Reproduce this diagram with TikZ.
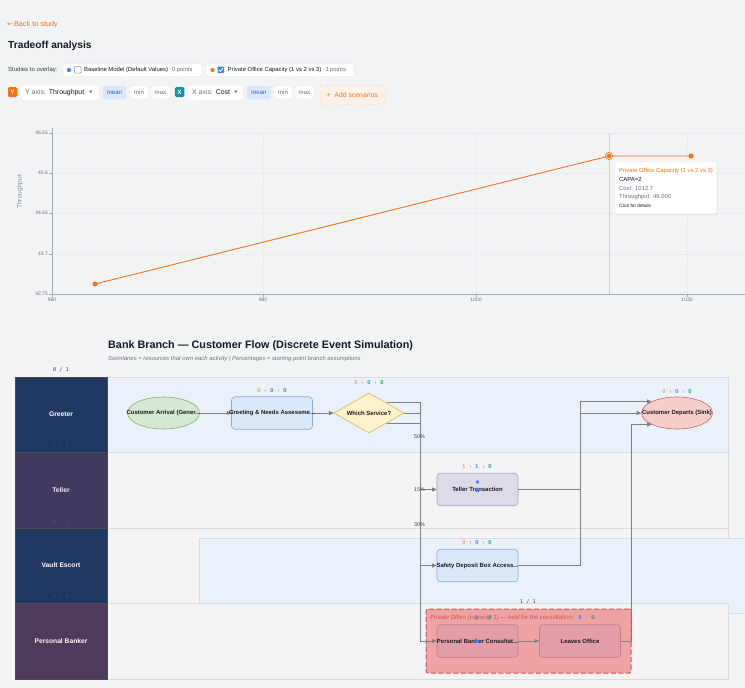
\documentclass[tikz,border=0pt]{standalone}
\usepackage{fontspec}
\setmainfont{Liberation Sans}
\setmonofont{DejaVu Sans Mono}
\newfontfamily\dejavu{DejaVu Sans}
\usetikzlibrary{arrows.meta,shapes.geometric,shadows}
\definecolor{bg}{HTML}{F3F4F6}
\definecolor{orng}{HTML}{F97316}
\definecolor{dark}{HTML}{111827}
\definecolor{txt}{HTML}{374151}
\definecolor{gtxt}{HTML}{6B7280}
\definecolor{bord}{HTML}{E2E5EA}
\definecolor{blu}{HTML}{3B82F6}
\definecolor{meanbg}{HTML}{DCE8FD}
\definecolor{meantx}{HTML}{2563EB}
\definecolor{teal}{HTML}{1591A8}
\definecolor{addbg}{HTML}{FEF1E8}
\definecolor{addbd}{HTML}{FBCFB0}
\definecolor{grid}{HTML}{E1E4E8}
\definecolor{axis}{HTML}{A3A9B3}
\definecolor{navy}{HTML}{1F3862}
\definecolor{navyf}{HTML}{33507E}
\definecolor{purp}{HTML}{403A5E}
\definecolor{purpf}{HTML}{544E72}
\definecolor{plum}{HTML}{4E3A5C}
\definecolor{laneblue}{HTML}{EAF1FB}
\definecolor{lanegray}{HTML}{F4F4F5}
\definecolor{laneline}{HTML}{DADCE0}
\definecolor{conn}{HTML}{808080}
\definecolor{cOr}{HTML}{F0A050}
\definecolor{cBl}{HTML}{3B82F6}
\definecolor{cGn}{HTML}{22A06B}
\definecolor{cSep}{HTML}{A0A4AA}
\definecolor{grfill}{HTML}{D5E8D4}
\definecolor{grbord}{HTML}{82B366}
\definecolor{blfill}{HTML}{DAE8FC}
\definecolor{blbord}{HTML}{8EAADB}
\definecolor{yfill}{HTML}{FFF2CC}
\definecolor{ybord}{HTML}{D6B656}
\definecolor{rfill}{HTML}{F8CECC}
\definecolor{rbord}{HTML}{C86864}
\definecolor{lavfill}{HTML}{DEDAEA}
\definecolor{lavbord}{HTML}{A9A3CB}
\definecolor{grpfill}{HTML}{F0A3A3}
\definecolor{grpbord}{HTML}{CC5555}
\definecolor{grptxt}{HTML}{D05050}
\definecolor{pbfill}{HTML}{E39DA8}
\definecolor{pbbord}{HTML}{C77B8C}
\definecolor{ntxt}{HTML}{1A1A1A}
\newcommand\myfs[1]{\fontsize{#1}{#1}\selectfont}
\newcommand\cnt[3]{{\color{cOr}#1}\hspace{4pt}{\color{cSep}›}\hspace{4pt}{\color{cBl}#2}\hspace{4pt}{\color{cSep}›}\hspace{4pt}{\color{cGn}#3}}
\begin{document}
\begin{tikzpicture}[x=1pt,y=-1pt,
  btn/.style={draw=bord, fill=white, rounded corners=1.5, inner sep=0, font=\myfs{6.1}, text=gtxt, minimum height=13},
  btnon/.style={btn, draw=meanbg, fill=meanbg, text=meantx},
  ico/.style={rounded corners=1.5, inner sep=0, minimum width=9.5, minimum height=10, text=white, font=\myfs{6.3}\bfseries},
  ytick/.style={anchor=east, font=\myfs{5}, text=gtxt, inner sep=0},
  xtick/.style={anchor=north, font=\myfs{5}, text=gtxt, inner sep=0},
  pt/.style={circle, fill=orng, inner sep=0, minimum size=5},
  tip/.style={anchor=west, inner sep=0, font=\myfs{5.9}},
  lanehd/.style={draw=black!70, minimum width=92, inner sep=0, font=\myfs{6.7}\bfseries},
  faint/.style={font=\ttfamily\myfs{5.2}, inner sep=0},
  frac/.style={font=\ttfamily\myfs{5.2}, text=txt, inner sep=0},
  counter/.style={font=\myfs{5.6}\bfseries, inner sep=0},
  proc/.style={rounded corners=3.5, minimum width=81, minimum height=32.5, inner sep=0, line width=0.6},
  lbl/.style={font=\myfs{5.95}\bfseries, text=ntxt, inner sep=0},
  pct/.style={font=\myfs{5.4}, text=txt, inner sep=0, fill=none},
  link/.style={draw=conn, line width=0.8, -{Triangle[width=4pt,length=4.5pt]}},
]
\useasboundingbox[fill=bg] (0,0) rectangle (745,688);

% ---------------- header ----------------
\node[anchor=west, inner sep=0, text=orng] (back) at (7,25) {\dejavu\myfs{6.8}←\,\rmfamily\myfs{7.3}Back to study};
\node[anchor=west, inner sep=0, font=\myfs{10.2}\bfseries, text=dark] (title) at (8,46) {Tradeoff analysis};
\node[anchor=west, inner sep=0, font=\myfs{6}, text=txt] (ovl) at (8,70) {Studies to overlay:};

\node[draw=bord, fill=white, rounded corners=1.5, minimum width=139, minimum height=12.5, inner sep=0] (s1) at (132.5,70) {};
\fill[blu] (69,70) circle (2.1);
\draw[gtxt!80, fill=white, rounded corners=0.8, line width=0.5] (74.5,66.5) rectangle (81,73);
\node[tip, text=dark] at (84,70) {Baseline Model (Default Values)\,{\color{gtxt}·\,0 points}};

\node[draw=bord, fill=white, rounded corners=1.5, minimum width=148, minimum height=12.5, inner sep=0] (s2) at (280,70) {};
\fill[orng] (212.5,70) circle (2.1);
\fill[blu, rounded corners=0.8] (217.5,66.5) rectangle (224,73);
\draw[white, line width=0.8] (218.8,69.8) -- (220.3,71.5) -- (223,67.8);
\node[tip, text=dark] at (227.5,70) {Private Office Capacity (1 vs 2 vs 3)\,{\color{gtxt}·\,3 points}};

\node[ico, fill=orng] (yic) at (12.5,92) {Y};
\node[btn, draw=bord!60, minimum width=78, minimum height=15] (ysel) at (60,92.5) {};
\node[tip, font=\myfs{6.9}, text=gtxt] at (25,92.5) {Y axis:\hspace{3pt}{\color{dark}Throughput}};
\node[inner sep=0, font=\dejavu\myfs{4}, text=gtxt] at (91,92) {▼};
\node[btnon, minimum width=23] (ymean) at (114.5,92.5) {mean};
\node[btn, minimum width=18] (ymin) at (139,92.5) {min};
\node[btn, minimum width=19] (ymax) at (160.5,92.5) {max};
\node[ico, fill=teal] (xic) at (179.5,92) {X};
\node[btn, draw=bord!60, minimum width=55, minimum height=15] (xsel) at (215.5,92.5) {};
\node[tip, font=\myfs{6.9}, text=gtxt] at (192,92.5) {X axis:\hspace{3pt}{\color{dark}Cost}};
\node[inner sep=0, font=\dejavu\myfs{4}, text=gtxt] at (236,92) {▼};
\node[btnon, minimum width=24] (xmean) at (259,92.5) {mean};
\node[btn, minimum width=18] (xmin) at (283,92.5) {min};
\node[btn, minimum width=19] (xmax) at (304.5,92.5) {max};
\node[draw=addbd, dashed, fill=addbg, rounded corners=2.5, minimum width=65, minimum height=19, inner sep=0] (add) at (352.5,95) {};
\node[tip, font=\myfs{6.8}, text=orng] at (326.5,95) {+\hspace{4pt}Add scenarios};

% ---------------- chart ----------------
\foreach \yy in {133,173,213,254} \draw[grid, dotted, line width=0.5] (52,\yy) -- (745,\yy);
\foreach \xx in {263,476,687} \draw[grid, dotted, line width=0.5] (\xx,133) -- (\xx,294);
\draw[axis, line width=0.8] (52,128) -- (52,294) -- (745,294);
\foreach \yy/\lab in {133/46.55,173/45.6,213/44.65,254/43.7,294/42.75} {
  \draw[axis, line width=0.5] (49,\yy) -- (52,\yy);
  \node[ytick] at (48,\yy) {\lab};
}
\foreach \xx/\lab in {52/960,263/980,476/1000,687/1020} {
  \draw[axis, line width=0.5] (\xx,294) -- (\xx,297);
  \node[xtick] at (\xx,298) {\lab};
}
\node[rotate=90, inner sep=0, font=\myfs{6.6}, text=gtxt!80] (ylab) at (20,192) {Throughput};
\draw[black!18, line width=0.6] (609,133) -- (609,294);
\coordinate (p1) at (95,284);
\coordinate (p2) at (609,156);
\coordinate (p3) at (691,156);
\draw[orng, line width=0.9] (p1) -- (p2) -- (p3);
\node[pt] at (p1) {};
\node[pt] at (p3) {};
\fill[orng!30] (p2) circle (4.2);
\draw[orng, line width=0.5] (p2) circle (3.6);
\fill[orng] (p2) circle (2.2);

\node[draw=bord, fill=white, rounded corners=2, minimum width=102, minimum height=52, inner sep=0, drop shadow={opacity=0.12, shadow xshift=0.5pt, shadow yshift=-1pt}] (tipbox) at (666,188) {};
\node[tip, text=orng] at (619,171) {Private Office Capacity (1 vs 2 vs 3)};
\node[tip, text=dark] at (619,179) {CAPA=2};
\node[tip, text=gtxt] at (619,188) {Cost: 1012.7};
\node[tip, text=gtxt] at (619,196.5) {Throughput: 46.000};
\node[tip, font=\myfs{4.7}, text=dark] at (619,206) {Click for details};

% ---------------- swimlane diagram ----------------
\node[anchor=west, inner sep=0, font=\myfs{10.8}\bfseries, text=dark] (dtitle) at (108,346) {Bank Branch — Customer Flow (Discrete Event Simulation)};
\node[anchor=west, inner sep=0, font=\myfs{5.9}\itshape, text=gtxt] (dsub) at (108,359) {Swimlanes = resources that own each activity | Percentages = starting-point branch assumptions};

\filldraw[fill=laneblue, draw=laneline, line width=0.6] (107,377) rectangle (728,452);
\filldraw[fill=lanegray, draw=laneline, line width=0.6] (107,452) rectangle (728,528);
\filldraw[fill=lanegray, draw=laneline, line width=0.6] (107,528) rectangle (728,603);
\filldraw[fill=laneblue, draw=laneline, line width=0.6] (199,538) rectangle (746,613);
\filldraw[fill=lanegray, draw=laneline, line width=0.6] (107,603) rectangle (728,679);

\node[lanehd, fill=navy, minimum height=75, text=white] (hG) at (61,414.5) {Greeter};
\node[lanehd, fill=purp, minimum height=76, text=white!92!purple] (hT) at (61,490) {Teller};
\node[lanehd, fill=navy, minimum height=75, text=white] (hV) at (61,565.5) {Vault Escort};
\node[lanehd, fill=plum, minimum height=76, text=white!88!pink] (hP) at (61,641) {Personal Banker};
\node[frac] at (61,370) {0 / 1};
\node[faint, text=navyf] at (61,446) {1 / 3};
\node[faint, text=purpf] at (61,521.5) {0 / 1};
\node[faint, text=navyf] at (61,597) {1 / 2};

% group
\node[draw=grpbord, fill=grpfill, dash pattern=on 5pt off 2.5pt, line width=1, rounded corners=2, minimum width=205, minimum height=64, inner sep=0] (grp) at (528.5,641) {};
\node[anchor=west, inner sep=0, font=\myfs{6}\itshape, text=grptxt] (grplab) at (430,618) {Private Office (capacity 1) — held for the consultation};
\node[frac] at (528,602) {1 / 1};

% nodes
\node[ellipse, draw=grbord, fill=grfill, line width=0.6, minimum width=72, minimum height=32, inner sep=0] (arr) at (163.5,413) {};
\node[proc, draw=blbord, fill=blfill] (greet) at (272,413) {};
\node[diamond, draw=ybord, fill=yfill, line width=0.6, minimum width=70, minimum height=40, aspect=1.75, inner sep=0] (ws) at (369,413) {};
\node[ellipse, draw=rbord, fill=rfill, line width=0.6, minimum width=71, minimum height=32, inner sep=0] (dep) at (677,413) {};
\node[proc, draw=lavbord, fill=lavfill] (tel) at (477.5,489.5) {};
\node[proc, draw=blbord, fill=blfill] (safe) at (477.5,565.5) {};
\node[proc, draw=pbbord, fill=pbfill] (cons) at (477.5,641) {};
\node[proc, draw=pbbord, fill=pbfill] (leave) at (580,641) {};

% connector bends
\coordinate (bx) at (420,0);
\coordinate (rx) at (580,0);
\coordinate (rx2) at (631,0);

\draw[link] (arr.east) -- (greet.west);
\draw[link] (greet.east) -- (ws.west);
\draw[link] (ws.north east) -- (ws.north east -| bx) |- (tel.west);
\draw[link] (ws.east) -- (ws.east -| bx) |- (safe.west);
\draw[link] (ws.south east) -- (ws.south east -| bx) |- (cons.west);
\draw[link] (tel.east) -- (tel.east -| rx) |- (dep.north west);
\draw[link] (safe.east) -- (safe.east -| rx) |- (dep.west);
\draw[link] (cons.east) -- (leave.west);
\draw[link] (leave.east) -- (leave.east -| rx2) |- (dep.south west);

\node[pct] at (419.5,437) {50\%};
\node[pct] at (419.5,490) {15\%};
\node[pct] at (419.5,525) {30\%};

% labels
\node[lbl] at (arr) {Customer Arrival (Gener...};
\node[lbl] at (greet) {Greeting \& Needs Assessme...};
\node[lbl] at (ws) {Which Service?};
\node[lbl] at (dep) {Customer Departs (Sink)};
\node[lbl] at (tel) {Teller Transaction};
\node[lbl] at (safe) {Safety Deposit Box Access...};
\node[lbl] at (cons) {Personal Banker Consultat...};
\node[lbl] at (leave) {Leaves Office};

% tokens
\fill[blu] (477.5,482) circle (1.8);
\fill[blu] (476,488.5) rectangle (479,491.5);
\fill[blu] (476,639.5) rectangle (479,642.5);

% counters
\node[counter] at (272,391) {\cnt{0}{0}{0}};
\node[counter] at (369,383) {\cnt{0}{0}{0}};
\node[counter] at (677,391.5) {\cnt{0}{0}{0}};
\node[counter] at (477,467) {\cnt{1}{1}{0}};
\node[counter] at (477,543) {\cnt{0}{0}{0}};
\node[counter] at (477,618) {\cnt{0}{1}{0}};
\node[counter] at (580,618) {\cnt{0}{0}{0}};
\end{tikzpicture}
\end{document}
